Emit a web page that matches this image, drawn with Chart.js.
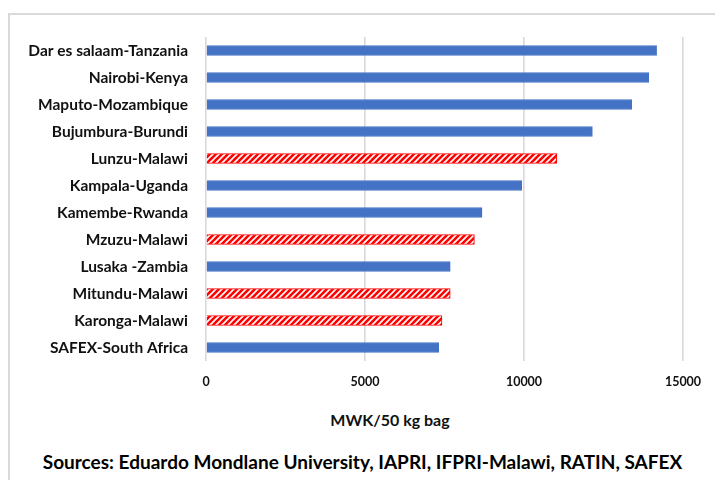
<!DOCTYPE html>
<html>
<head>
<meta charset="utf-8">
<script src="https://cdn.jsdelivr.net/npm/chart.js@4"></script>
<style>
  body { margin: 0; background: #fff; width: 715px; height: 480px; overflow: hidden; position: relative; }
  #frame { position: absolute; left: 8px; top: 13px; width: 707px; height: 467px;
           border-left: 2px solid #d9d9d9; border-top: 2px solid #d9d9d9; }
  #wrap { position: absolute; left: 0; top: 0; width: 705px; height: 390px; }
  #xtitle { position: absolute; left: 280px; width: 200px; top: 395px; text-align: center;
            font: bold 16px Lato, sans-serif; color: #111; }
  #source { position: absolute; left: 0; top: 435px; width: 705px; text-align: center;
            font: bold 19px Lato, sans-serif; color: #000; }
</style>
</head>
<body>
<div id="frame">
  <div id="wrap"><canvas id="priceChart"></canvas></div>
  <div id="xtitle"></div>
  <div id="source">Sources: Eduardo Mondlane University, IAPRI, IFPRI-Malawi, RATIN, SAFEX</div>
</div>
<script>
// markets, top to bottom
var markets = ['Dar es salaam-Tanzania', 'Nairobi-Kenya', 'Maputo-Mozambique', 'Bujumbura-Burundi',
    'Lunzu-Malawi', 'Kampala-Uganda', 'Kamembe-Rwanda', 'Mzuzu-Malawi', 'Lusaka -Zambia',
    'Mitundu-Malawi', 'Karonga-Malawi', 'SAFEX-South Africa'];
// price, MWK per 50 kg bag
var prices = [14170, 13920, 13390, 12150, 11030, 9930, 8680, 8440, 7680, 7680, 7420, 7320];
var xTicks = [0, 5000, 10000, 15000];
var xTitle = 'MWK/50 kg bag';

document.getElementById('xtitle').textContent = xTitle;

// red hatch for the Malawi markets
function makeHatch() {
    var c = document.createElement('canvas');
    c.width = 6; c.height = 6;
    var g = c.getContext('2d');
    g.fillStyle = '#ff0000';
    g.fillRect(0, 0, 6, 6);
    g.strokeStyle = '#ffffff';
    g.lineWidth = 1.6;
    g.beginPath();
    g.moveTo(-1, 7); g.lineTo(7, -1);
    g.moveTo(-4, 4); g.lineTo(4, -4);
    g.moveTo(2, 10); g.lineTo(10, 2);
    g.stroke();
    return g.createPattern(c, 'repeat');
}
var hatch = makeHatch();

var fills = markets.map(function (m) { return m.indexOf('Malawi') >= 0 ? hatch : '#4472c4'; });
var borders = markets.map(function (m) { return m.indexOf('Malawi') >= 0 ? '#ff0000' : '#4472c4'; });

Chart.defaults.font.family = 'Lato, sans-serif';
Chart.defaults.color = '#111';

new Chart(document.getElementById('priceChart'), {
    type: 'bar',
    data: {
        labels: markets,
        datasets: [{
            data: prices,
            backgroundColor: fills,
            borderColor: borders,
            borderWidth: 1,
            barThickness: 10
        }]
    },
    options: {
        indexAxis: 'y',
        responsive: true,
        maintainAspectRatio: false,
        animation: false,
        layout: { padding: { left: 0, right: 32, top: 22, bottom: 0 } },
        plugins: {
            legend: { display: false },
            tooltip: { enabled: false }
        },
        scales: {
            x: {
                min: 0,
                max: 15000,
                afterBuildTicks: function (scale) {
                    scale.ticks = xTicks.map(function (v) { return { value: v }; });
                },
                afterFit: function (scale) { scale.height = 44; },
                grid: { color: '#d9d9d9', lineWidth: 1.6, drawTicks: false },
                border: { display: false },
                ticks: {
                    padding: 13,
                    font: { size: 12.5, weight: 'bold' },
                    callback: function (v) { return String(v); }
                }
            },
            y: {
                afterFit: function (scale) { scale.width = 196; },
                grid: { display: false },
                border: { display: false },
                ticks: {
                    padding: 10,
                    font: { size: 15.5, weight: 'bold' }
                }
            }
        }
    }
});
</script>
</body>
</html>
